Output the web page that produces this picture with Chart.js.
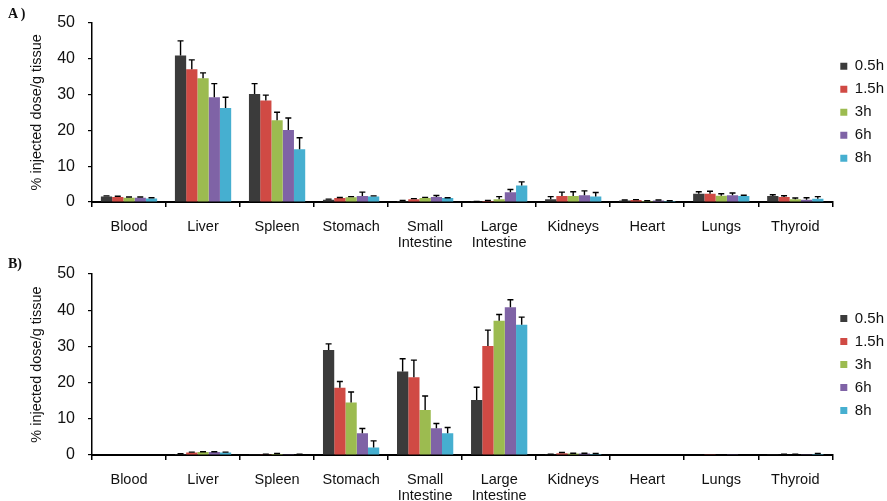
<!DOCTYPE html>
<html>
<head>
<meta charset="utf-8">
<script src="https://cdn.jsdelivr.net/npm/chart.js@4.4.0/dist/chart.umd.min.js"></script>
<style>
  body { margin: 0; background: #fff; width: 887px; height: 501px; overflow: hidden; position: relative; }
  .panel { position: absolute; left: 0; width: 887px; }
  .tag { position: absolute; left: 8px; font: bold 14px "Liberation Serif", "DejaVu Serif", serif; color: #111; }
</style>
</head>
<body>
<div class="panel" style="top:0;height:262px"><canvas id="chartA" width="887" height="262"></canvas></div>
<div class="panel" style="top:250px;height:262px"><canvas id="chartB" width="887" height="262"></canvas></div>
<div class="tag" style="top:6px">A )</div>
<div class="tag" style="top:256px">B)</div>
<script>
// tissues and time points
const organs = ['Blood', 'Liver', 'Spleen', 'Stomach', ['Small', 'Intestine'], ['Large', 'Intestine'],
                'Kidneys', 'Heart', 'Lungs', 'Thyroid'];
const timePoints = ['0.5h', '1.5h', '3h', '6h', '8h'];
const yTicks = [0, 10, 20, 30, 40, 50];

// panel A  (% ID/g, one array per time point, order = organs)
const a05 = [1.5, 40.8, 30.1, 0.65, 0.3, 0.1, 0.8, 0.45, 2.3, 1.65];
const a15 = [1.4, 37.0, 28.3, 1.1, 0.8, 0.3, 1.65, 0.55, 2.3, 1.4];
const a3  = [1.2, 34.5, 22.8, 1.3, 1.1, 0.8, 1.65, 0.3, 1.75, 0.8];
const a6  = [1.2, 29.2, 20.1, 1.65, 1.4, 2.75, 1.85, 0.45, 1.85, 0.65];
const a8  = [1.0, 26.2, 14.7, 1.55, 1.1, 4.6, 1.5, 0.3, 1.65, 0.9];
// panel A error (upper SD)
const a05Err = [0.2, 4.1, 2.9, 0.15, 0.1, 0.05, 0.7, 0.1, 0.55, 0.35];
const a15Err = [0.2, 2.6, 1.5, 0.15, 0.15, 0.1, 1.1, 0.1, 0.7, 0.35];
const a3Err  = [0.2, 1.5, 2.2, 0.2, 0.2, 0.7, 1.2, 0.05, 0.55, 0.3];
const a6Err  = [0.2, 3.8, 3.3, 1.1, 0.4, 0.75, 1.25, 0.1, 0.65, 0.55];
const a8Err  = [0.2, 3.0, 3.2, 0.15, 0.1, 1.0, 1.15, 0.05, 0.25, 0.6];

// panel B
const b05 = [0, 0.3, 0.05, 29.0, 23.1, 15.2, 0.2, 0, 0, 0.1];
const b15 = [0, 0.7, 0.2, 18.6, 21.5, 30.1, 0.5, 0, 0.1, 0.15];
const b3  = [0, 0.8, 0.3, 14.5, 12.4, 37.1, 0.4, 0, 0, 0.15];
const b6  = [0, 0.8, 0.05, 6.0, 7.4, 40.8, 0.4, 0, 0.1, 0.1];
const b8  = [0, 0.7, 0.15, 2.1, 6.0, 36.0, 0.3, 0, 0, 0.3];
const b05Err = [0, 0.05, 0, 1.7, 3.5, 3.5, 0.05, 0, 0, 0];
const b15Err = [0, 0.1, 0.05, 1.7, 4.7, 4.4, 0.2, 0, 0, 0.05];
const b3Err  = [0, 0.1, 0.1, 2.9, 3.9, 1.7, 0.1, 0, 0, 0.05];
const b6Err  = [0, 0.1, 0, 1.3, 1.3, 2.1, 0.1, 0, 0, 0];
const b8Err  = [0, 0.1, 0.05, 1.8, 1.6, 2.1, 0.1, 0, 0, 0.1];

const colors = ['#3b3b3b', '#d04a44', '#9cbb50', '#7f63a6', '#46afd0'];
const FONT = '"Liberation Sans", Arial, sans-serif';

// upper error bars with caps
const errorBars = {
  id: 'errorBars',
  afterDatasetsDraw(chart) {
    const ctx = chart.ctx;
    const y = chart.scales.y;
    ctx.save();
    ctx.strokeStyle = '#000';
    ctx.lineWidth = 1.4;
    chart.data.datasets.forEach((ds, i) => {
      chart.getDatasetMeta(i).data.forEach((bar, j) => {
        const e = ds.errors[j];
        if (!e) return;
        const top = y.getPixelForValue(ds.data[j] + e);
        ctx.beginPath();
        ctx.moveTo(bar.x, bar.y);
        ctx.lineTo(bar.x, top);
        ctx.moveTo(bar.x - 3, top);
        ctx.lineTo(bar.x + 3, top);
        ctx.stroke();
      });
    });
    ctx.restore();
  }
};

function makeChart(id, series, errors, padTop, padBottom) {
  new Chart(document.getElementById(id), {
    type: 'bar',
    data: {
      labels: organs,
      datasets: timePoints.map((t, i) => ({
        label: t,
        data: series[i],
        errors: errors[i],
        backgroundColor: colors[i],
        borderWidth: 0,
        categoryPercentage: 0.76,
        barPercentage: 1.0
      }))
    },
    options: {
      responsive: false,
      animation: false,
      layout: { padding: { top: padTop, right: -7, bottom: padBottom, left: 28 } },
      plugins: {
        legend: {
          position: 'right',
          fullSize: false,
          labels: {
            boxWidth: 7, boxHeight: 7, padding: 8,
            color: '#111',
            font: { family: FONT, size: 15 }
          }
        },
        tooltip: { enabled: false }
      },
      scales: {
        y: {
          min: 0, max: 50,
          afterFit: (axis) => { axis.width = 64; },
          ticks: {
            stepSize: 5,
            padding: 13,
            color: '#111',
            font: { family: FONT, size: 16 },
            callback: (v) => yTicks.includes(v) ? v : ''
          },
          grid: { drawOnChartArea: false, tickLength: 4, color: '#000', lineWidth: 1.2 },
          border: { color: '#000', width: 1.5 },
          title: {
            display: true,
            text: '% injected dose/g tissue',
            color: '#111',
            font: { family: FONT, size: 14.5 },
            padding: { top: 0, bottom: 0 }
          }
        },
        x: {
          afterFit: (axis) => { axis.height = 52; },
          ticks: {
            padding: 12,
            color: '#111',
            font: { family: FONT, size: 14.5, lineHeight: 1.1 }
          },
          grid: { offset: true, drawOnChartArea: false, tickLength: 5, color: '#000', lineWidth: 1.5 },
          border: { color: '#000', width: 2 }
        }
      }
    },
    plugins: [errorBars]
  });
}

makeChart('chartA', [a05, a15, a3, a6, a8], [a05Err, a15Err, a3Err, a6Err, a8Err], 21, 8);
makeChart('chartB', [b05, b15, b3, b6, b8], [b05Err, b15Err, b3Err, b6Err, b8Err], 24, 5);
</script>
</body>
</html>
